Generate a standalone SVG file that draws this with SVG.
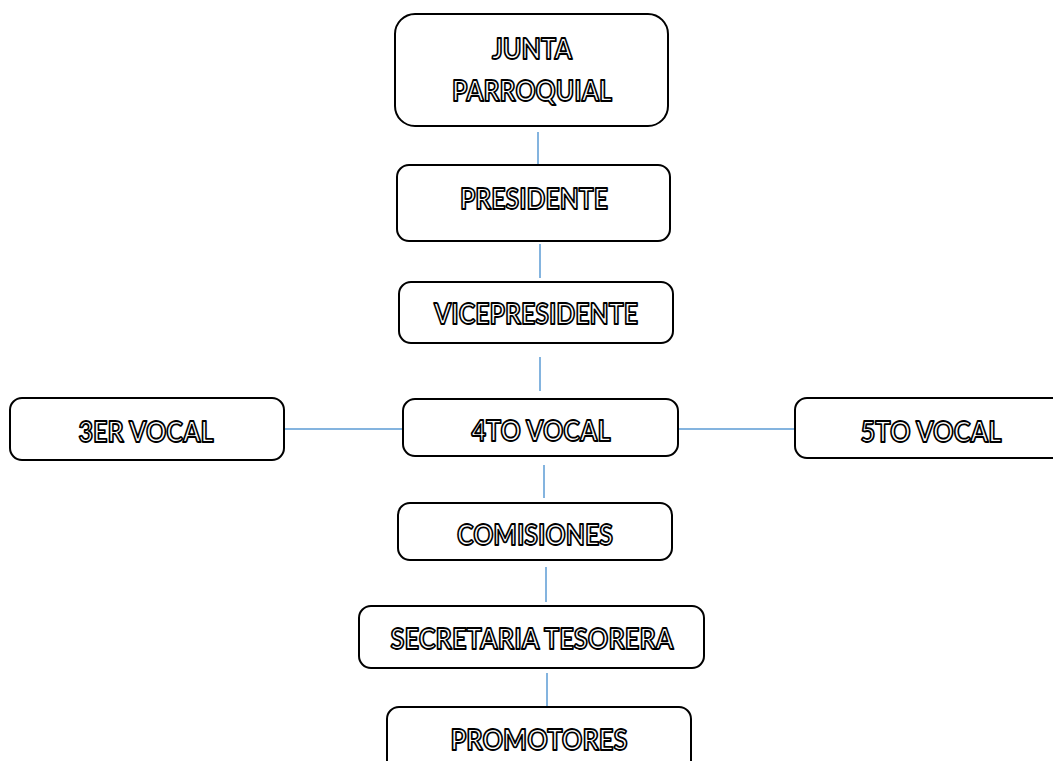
<svg xmlns="http://www.w3.org/2000/svg" width="1053" height="761" viewBox="0 0 1053 761">
<style>
.box{fill:#fff;stroke:#000;stroke-width:2}
.lbl{font-family:Lato,"Open Sans","Liberation Sans",sans-serif;font-weight:bold;font-size:28px;fill:#fff;stroke:#000;stroke-width:1.8;stroke-linejoin:round}
.con{stroke:#5B9BD5;stroke-width:1.5;fill:none}
</style>
<rect width="1053" height="761" fill="#fff"/>
<g id="connectors">
<line class="con" x1="538" y1="132" x2="538" y2="165"/>
<line class="con" x1="540" y1="244" x2="540" y2="278"/>
<line class="con" x1="540" y1="357" x2="540" y2="391"/>
<line class="con" x1="284" y1="429" x2="402" y2="429"/>
<line class="con" x1="678" y1="429" x2="795" y2="429"/>
<line class="con" x1="544" y1="465" x2="544" y2="498"/>
<line class="con" x1="546" y1="567" x2="546" y2="602"/>
<line class="con" x1="547" y1="673" x2="547" y2="707"/>
</g>
<g id="junta">
<rect class="box" x="395" y="14" width="273" height="112" rx="20"/>
<text class="lbl" x="532" y="59" text-anchor="middle" textLength="80" lengthAdjust="spacingAndGlyphs">JUNTA</text>
<text class="lbl" x="532" y="101" text-anchor="middle" textLength="160" lengthAdjust="spacingAndGlyphs">PARROQUIAL</text>
</g>
<g id="presidente">
<rect class="box" x="397" y="165" width="273" height="76" rx="12"/>
<text class="lbl" x="534" y="209" text-anchor="middle" textLength="148" lengthAdjust="spacingAndGlyphs">PRESIDENTE</text>
</g>
<g id="vicepresidente">
<rect class="box" x="399" y="282" width="274" height="61" rx="12"/>
<text class="lbl" x="536" y="324" text-anchor="middle" textLength="204" lengthAdjust="spacingAndGlyphs">VICEPRESIDENTE</text>
</g>
<g id="vocal3">
<rect class="box" x="10" y="398" width="274" height="62" rx="12"/>
<text class="lbl" x="146" y="442" text-anchor="middle" textLength="135" lengthAdjust="spacingAndGlyphs">3ER VOCAL</text>
</g>
<g id="vocal4">
<rect class="box" x="403" y="399" width="275" height="57" rx="12"/>
<text class="lbl" x="541" y="441" text-anchor="middle" textLength="139" lengthAdjust="spacingAndGlyphs">4TO VOCAL</text>
</g>
<g id="vocal5">
<rect class="box" x="795" y="398" width="274" height="60" rx="12"/>
<text class="lbl" x="931" y="442" text-anchor="middle" textLength="141" lengthAdjust="spacingAndGlyphs">5TO VOCAL</text>
</g>
<g id="comisiones">
<rect class="box" x="398" y="503" width="274" height="57" rx="12"/>
<text class="lbl" x="535" y="545" text-anchor="middle" textLength="156" lengthAdjust="spacingAndGlyphs">COMISIONES</text>
</g>
<g id="secretaria">
<rect class="box" x="359" y="606" width="345" height="62" rx="12"/>
<text class="lbl" x="532" y="649" text-anchor="middle" textLength="283" lengthAdjust="spacingAndGlyphs">SECRETARIA TESORERA</text>
</g>
<g id="promotores">
<rect class="box" x="387" y="707" width="304" height="80" rx="12"/>
<text class="lbl" x="539" y="750" text-anchor="middle" textLength="177" lengthAdjust="spacingAndGlyphs">PROMOTORES</text>
</g>
</svg>
